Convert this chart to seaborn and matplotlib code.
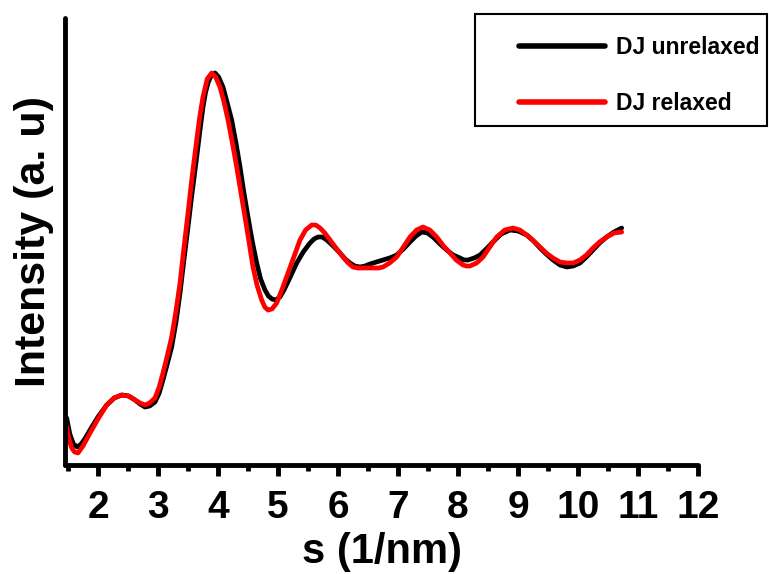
import matplotlib.pyplot as plt
import seaborn as sns
from matplotlib.patches import Rectangle
from matplotlib.ticker import MultipleLocator

# values (intensity in arbitrary units)
s_unrelaxed = [1.478, 1.53, 1.59, 1.655, 1.72, 1.79, 1.867, 2.00, 2.145, 2.27,
               2.395, 2.51, 2.617, 2.70, 2.783, 2.86, 2.95, 3.02, 3.083, 3.15,
               3.228, 3.30, 3.367, 3.43, 3.50, 3.57, 3.645, 3.70, 3.75, 3.79,
               3.833, 3.89, 3.95, 4.01, 4.083, 4.15, 4.228, 4.30, 4.367, 4.43,
               4.50, 4.57, 4.645, 4.71, 4.783, 4.84, 4.90, 4.96, 5.033, 5.10,
               5.18, 5.25, 5.312, 5.42, 5.533, 5.60, 5.667, 5.74, 5.812, 5.92,
               6.033, 6.12, 6.20, 6.28, 6.367, 6.45, 6.533, 6.64, 6.75, 6.86,
               6.978, 7.09, 7.20, 7.30, 7.395, 7.49, 7.583, 7.70, 7.812, 7.92,
               8.033, 8.10, 8.167, 8.27, 8.367, 8.47, 8.583, 8.72, 8.867, 9.00,
               9.145, 9.26, 9.367, 9.47, 9.583, 9.70, 9.812, 9.92, 10.033, 10.14,
               10.25, 10.36, 10.478, 10.60, 10.728]
int_unrelaxed = [0.47, 0.31, 0.21, 0.18, 0.21, 0.27, 0.35, 0.48, 0.60, 0.67,
                 0.70, 0.69, 0.65, 0.61, 0.58, 0.59, 0.63, 0.72, 0.85, 1.00,
                 1.18, 1.43, 1.72, 2.04, 2.38, 2.73, 3.08, 3.35, 3.58, 3.72,
                 3.82, 3.90, 3.92, 3.88, 3.78, 3.63, 3.45, 3.22, 2.98, 2.73,
                 2.48, 2.24, 2.02, 1.86, 1.75, 1.69, 1.66, 1.65, 1.68, 1.75,
                 1.85, 1.94, 2.02, 2.13, 2.22, 2.26, 2.28, 2.28, 2.25, 2.19,
                 2.12, 2.06, 2.02, 1.99, 1.98, 1.99, 2.01, 2.03, 2.05, 2.07,
                 2.10, 2.16, 2.23, 2.29, 2.33, 2.32, 2.28, 2.21, 2.15, 2.10,
                 2.07, 2.05, 2.05, 2.07, 2.10, 2.16, 2.23, 2.31, 2.35, 2.34,
                 2.30, 2.24, 2.17, 2.11, 2.05, 2.00, 1.98, 1.99, 2.02, 2.08,
                 2.15, 2.22, 2.28, 2.33, 2.37]

s_relaxed = [1.478, 1.52, 1.562, 1.61, 1.667, 1.75, 1.867, 2.00, 2.145, 2.27,
             2.395, 2.51, 2.617, 2.70, 2.783, 2.86, 2.95, 3.02, 3.083, 3.15,
             3.228, 3.30, 3.367, 3.43, 3.50, 3.57, 3.645, 3.70, 3.75, 3.82,
             3.895, 3.96, 4.033, 4.10, 4.167, 4.24, 4.312, 4.38, 4.45, 4.52,
             4.583, 4.65, 4.728, 4.78, 4.833, 4.90, 4.978, 5.07, 5.167, 5.27,
             5.367, 5.46, 5.562, 5.63, 5.70, 5.78, 5.867, 5.98, 6.083, 6.17,
             6.25, 6.33, 6.417, 6.52, 6.617, 6.68, 6.75, 6.86, 6.978, 7.09,
             7.20, 7.31, 7.417, 7.53, 7.645, 7.76, 7.867, 7.97, 8.083, 8.14,
             8.20, 8.31, 8.417, 8.53, 8.645, 8.78, 8.917, 9.03, 9.145, 9.26,
             9.367, 9.47, 9.583, 9.70, 9.812, 9.92, 10.033, 10.14, 10.25, 10.36,
             10.478, 10.60, 10.728]
int_relaxed = [0.38, 0.25, 0.17, 0.13, 0.12, 0.19, 0.32, 0.46, 0.60, 0.67,
               0.70, 0.69, 0.65, 0.62, 0.60, 0.62, 0.67, 0.78, 0.92, 1.08,
               1.28, 1.54, 1.82, 2.16, 2.52, 2.89, 3.25, 3.50, 3.68, 3.86,
               3.92, 3.88, 3.78, 3.63, 3.45, 3.22, 2.98, 2.73, 2.48, 2.22,
               1.98, 1.80, 1.65, 1.58, 1.55, 1.56, 1.62, 1.76, 1.92, 2.09,
               2.25, 2.35, 2.40, 2.40, 2.37, 2.32, 2.25, 2.16, 2.08, 2.02,
               1.98, 1.97, 1.97, 1.97, 1.97, 1.97, 1.98, 2.02, 2.08, 2.18,
               2.28, 2.35, 2.38, 2.35, 2.28, 2.19, 2.12, 2.05, 2.00, 1.99,
               1.99, 2.02, 2.08, 2.18, 2.28, 2.35, 2.37, 2.35, 2.30, 2.24,
               2.18, 2.12, 2.07, 2.03, 2.02, 2.02, 2.05, 2.10, 2.17, 2.23,
               2.28, 2.32, 2.33]

labels = ['DJ unrelaxed', 'DJ relaxed']
colors = ['black', 'red']
x_ticks = list(range(2, 13))

sns.set_style('ticks', {'axes.edgecolor': 'black', 'xtick.color': 'black',
                        'ytick.color': 'black', 'text.color': 'black',
                        'axes.labelcolor': 'black'})
plt.rcParams['font.family'] = ['Liberation Sans', 'DejaVu Sans']
plt.rcParams['font.weight'] = 'bold'

W, H = 769, 574
fig = plt.figure(figsize=(W / 100, H / 100), dpi=100)
ax = fig.add_axes([65 / W, 1 - 465 / H, (698 - 65) / W, (465 - 18) / H])

sns.lineplot(x=s_unrelaxed, y=int_unrelaxed, color=colors[0], lw=3.4, sort=False,
             ax=ax, label=labels[0], solid_capstyle='round', solid_joinstyle='round')
sns.lineplot(x=s_relaxed, y=int_relaxed, color=colors[1], lw=3.4, sort=False,
             ax=ax, label=labels[1], solid_capstyle='round', solid_joinstyle='round')

ax.set_xlim(1.45, 12)
ax.set_ylim(0, 4.47)
ax.set_xticks(x_ticks)
ax.xaxis.set_minor_locator(MultipleLocator(0.5))
ax.set_yticks([])

for side in ['top', 'right']:
    ax.spines[side].set_visible(False)
for side in ['left', 'bottom']:
    ax.spines[side].set_linewidth(3.5)
    ax.spines[side].set_color('black')
    ax.spines[side].set_capstyle('round')

ax.tick_params(axis='x', which='major', direction='out', length=8, width=3.5,
               labelsize=28, pad=10, color='black', labelcolor='black')
ax.tick_params(axis='x', which='minor', direction='out', length=4, width=3.5,
               color='black')

ax.set_xlabel('s (1/nm)', fontsize=30, fontweight='bold', labelpad=4)
ax.set_ylabel('Intensity (a. u)', fontsize=31, fontweight='bold', labelpad=8)

# legend: handles placed without frame, box drawn separately (box is wider on the left)
leg = ax.legend(loc='upper left', bbox_to_anchor=(519 / W, 1 - 36 / H),
                bbox_transform=fig.transFigure, frameon=False, borderpad=0,
                borderaxespad=0, handlelength=3.74, handletextpad=0.5,
                labelspacing=1.42, prop={'size': 16.5, 'weight': 'bold'})
for line in leg.get_lines():
    line.set_linewidth(4)
    line.set_solid_capstyle('round')
fig.add_artist(Rectangle((475 / W, 1 - 126 / H), (767 - 475) / W, (126 - 14) / H,
                         transform=fig.transFigure, fill=False,
                         edgecolor='black', lw=1.5))

fig.savefig('out.png', dpi=100)
